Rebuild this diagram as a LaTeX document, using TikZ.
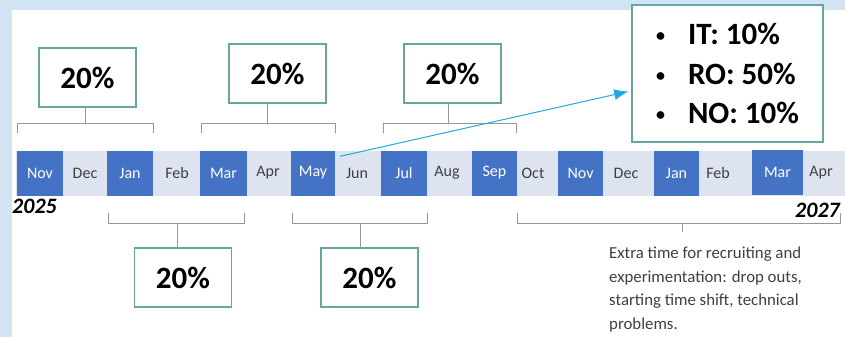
\documentclass[tikz,border=0pt]{standalone}
\usepackage{fontspec}
\setmainfont{Carlito}
\usetikzlibrary{arrows.meta,calc}
\definecolor{bgblue}{RGB}{210,228,243}
\definecolor{bandc}{RGB}{221,227,239}
\definecolor{cellblue}{RGB}{68,114,196}
\definecolor{tealc}{RGB}{102,166,160}
\definecolor{brkc}{RGB}{150,150,150}
\definecolor{arrc}{RGB}{30,170,225}
\definecolor{txtc}{RGB}{64,64,64}
\newcommand{\smbul}{\makebox[32pt][l]{\raisebox{3pt}{\fontsize{18}{18}\selectfont\textbullet}}}
\tikzset{
  cell/.style={fill=cellblue, text=white, minimum height=45pt, inner sep=0pt, font=\fontsize{16}{16}\selectfont},
  mon/.style={text=txtc, inner sep=0pt, font=\fontsize{16}{16}\selectfont},
  pbox/.style={draw=tealc, line width=1.6pt, fill=white, minimum width=97pt, minimum height=59pt, inner sep=0pt, font=\bfseries\fontsize{31}{31}\selectfont},
  brk/.style={draw=brkc, line width=1pt},
  yearlab/.style={inner sep=0pt, font=\bfseries\itshape\fontsize{22}{22}\selectfont},
}
\begin{document}
\begin{tikzpicture}[x=1pt,y=-1pt]
\useasboundingbox (0,0) rectangle (845,337);
\fill[bgblue] (0,0) rectangle (845,337);
\fill[white] (12,10) rectangle (845,337);
\fill[bandc] (16,151) rectangle (845,196);
% month cells
\node[cell, minimum width=46pt] (nov1) at (40,173) {Nov};
\node[mon] (dec1) at (85,173) {Dec};
\node[cell, minimum width=46pt] (jan1) at (130,173) {Jan};
\node[mon] (feb1) at (177,173) {Feb};
\node[cell, minimum width=47pt] (mar1) at (223.5,173) {Mar};
\node[mon] (apr1) at (268,173) {Apr};
\node[cell, minimum width=44pt] (may) at (313,173) {May};
\node[mon] (jun) at (357,173) {Jun};
\node[cell, minimum width=46pt] (jul) at (404,173) {Jul};
\node[mon] (aug) at (447,173) {Aug};
\node[cell, minimum width=45pt] (sep) at (494.5,173) {Sep};
\node[mon] (oct) at (533,173) {Oct};
\node[cell, minimum width=45pt] (nov2) at (580.5,173) {Nov};
\node[mon] (dec2) at (626,173) {Dec};
\node[cell, minimum width=45pt] (jan2) at (676.5,173) {Jan};
\node[mon] (feb2) at (718,173) {Feb};
\node[cell, minimum width=51pt] (mar2) at (777.5,172) {Mar};
\node[mon] (apr2) at (821,173) {Apr};
% years
\node[yearlab, anchor=west] (y25) at (12,206) {2025};
\node[yearlab, anchor=east] (y27) at (840,210) {2027};
% top boxes
\node[pbox] (p1) at (87.5,77.5) {20\%};
\node[pbox] (p2) at (277.5,73.5) {20\%};
\node[pbox] (p3) at (452.5,73.5) {20\%};
% bottom boxes
\node[pbox] (p4) at (183,277.5) {20\%};
\node[pbox] (p5) at (369.5,277.5) {20\%};
% top brackets
\draw[brk] (17,133) -- (17,123) -- (153,123) -- (153,133);
\coordinate (b1) at (85,123);
\draw[brk] (b1) -- (p1.south -| b1);
\draw[brk] (201,133) -- (201,123) -- (335,123) -- (335,133);
\coordinate (b2) at (267,123);
\draw[brk] (b2) -- (p2.south -| b2);
\draw[brk] (383,133) -- (383,123) -- (516,123) -- (516,133);
\coordinate (b3) at (448,123);
\draw[brk] (b3) -- (p3.south -| b3);
% bottom brackets
\draw[brk] (108,213) -- (108,223) -- (244,223) -- (244,213);
\coordinate (b4) at (177,223);
\draw[brk] (b4) -- (p4.north -| b4);
\draw[brk] (292,213) -- (292,223) -- (427,223) -- (427,213);
\coordinate (b5) at (360,223);
\draw[brk] (b5) -- (p5.north -| b5);
\draw[brk] (517,213) -- (517,223) -- (840,223) -- (840,213);
\coordinate (b6) at (682,223);
\coordinate (b6e) at (682,232);
\draw[brk] (b6) -- (b6e);
\node[anchor=north west, align=left, inner sep=0pt, text=txtc, font=\fontsize{16.8}{23.5}\selectfont] (extra) at (609,247)
  {Extra time for recruiting and\\experimentation: drop outs,\\starting time shift, technical\\problems.};
% info box
\node[draw=tealc, line width=1.6pt, fill=white, minimum width=191pt, minimum height=137pt, inner sep=0pt, align=left,
  font=\bfseries\fontsize{31}{39.5}\selectfont] (info) at (727.5,73.5)
  {\smbul IT: 10\%\\\smbul RO: 50\%\\\smbul NO: 10\%};
% arrow
\draw[arrc, line width=1pt, -{Latex[length=14pt,width=11pt]}] ($(may.north east)+(5,6)$) -- ($(info.west)+(-3,18)$);
\end{tikzpicture}
\end{document}
